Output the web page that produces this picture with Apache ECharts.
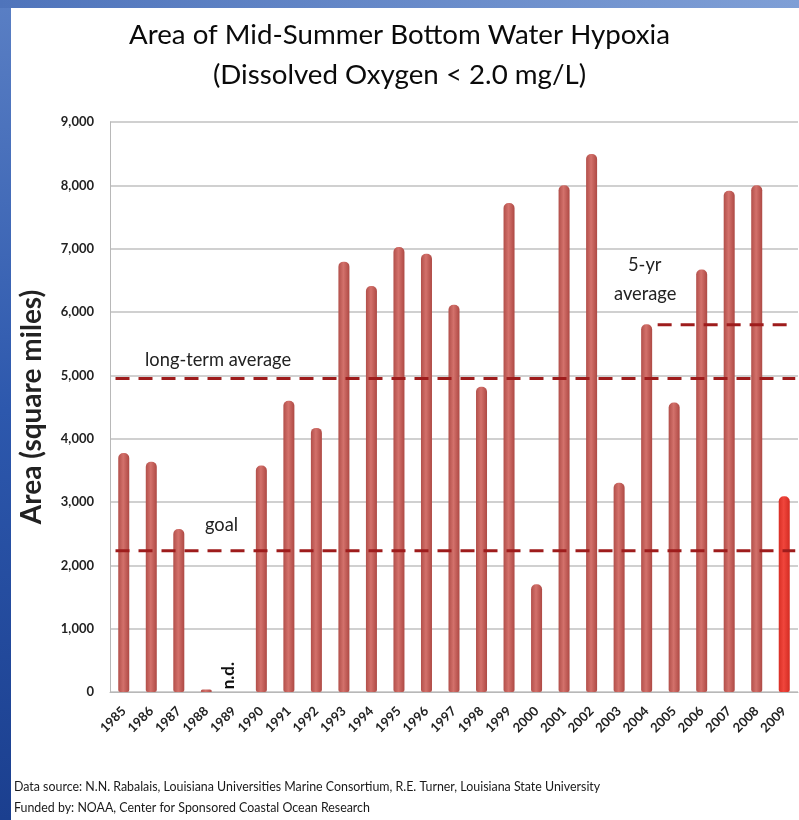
<!DOCTYPE html>
<html><head><meta charset="utf-8">
<script src="https://cdn.jsdelivr.net/npm/echarts@6/dist/echarts.min.js"></script>
<style>html,body{margin:0;padding:0;background:#fff}#c{width:799px;height:820px}</style>
</head><body><div id="c"></div>
<script>
// ---- data ----
const years = ['1985','1986','1987','1988','1989','1990','1991','1992','1993','1994','1995','1996','1997','1998','1999','2000','2001','2002','2003','2004','2005','2006','2007','2008','2009'];
const areaSqMi = [3775,3635,2575,40,null,3575,4600,4170,6795,6410,7025,6920,6115,4820,7720,1700,8000,8495,3305,5805,4570,6670,7915,8000,3090];
const yTicks = [0,1000,2000,3000,4000,5000,6000,7000,8000,9000];
const longTermAverage = 4950;
const goal = 2230;
const fiveYearAverage = 5800;
// reference line extents in category units (0 = left edge, 25 = right edge)
const longTermSpan = [0.2, 24.9];
const goalSpan = [0.2, 24.9];
const fiveYearSpan = [19.9, 24.6];

const chart = echarts.init(document.getElementById('c'));
const FONT = 'Lato, "Open Sans", sans-serif';
const barGrad = {type:'linear',x:0,y:0,x2:1,y2:0,colorStops:[{offset:0,color:'#b24f4a'},{offset:0.45,color:'#d3716b'},{offset:1,color:'#ae4944'}]};
const barGradHi = {type:'linear',x:0,y:0,x2:1,y2:0,colorStops:[{offset:0,color:'#d92e25'},{offset:0.45,color:'#f0463c'},{offset:1,color:'#d42b22'}]};
const dashStyle = {color:'#9e1c1c', width:3, type:[14,9]};

function ref(span, v){ return [[span[0], v],[span[1], v]]; }

chart.setOption({
  animation:false,
  backgroundColor:'#fff',
  title:[
    {text:'Area of Mid-Summer Bottom Water Hypoxia', left:'center', top:16, textStyle:{fontFamily:FONT, fontSize:27.7, fontWeight:'normal', color:'#0a0a0a'}},
    {text:'(Dissolved Oxygen < 2.0 mg/L)', left:'center', top:56, textStyle:{fontFamily:FONT, fontSize:27.7, fontWeight:'normal', color:'#0a0a0a'}}
  ],
  grid:{left:110, right:1, top:122, bottom:128},
  xAxis:[
    {type:'category', data:years, boundaryGap:true,
     axisLine:{show:true, lineStyle:{color:'#b8b8b8', width:1}},
     axisTick:{show:false},
     axisLabel:{rotate:45, margin:17, fontFamily:FONT, fontSize:13, fontWeight:'bold', color:'#222', interval:0}},
    {type:'value', min:0, max:25, show:false}
  ],
  yAxis:{type:'value', min:yTicks[0], max:yTicks[yTicks.length-1], interval:1000,
    name:'Area (square miles)', nameLocation:'middle', nameGap:64,
    nameTextStyle:{fontFamily:FONT, fontSize:28, fontWeight:'bold', color:'#222'},
    axisLine:{show:true, lineStyle:{color:'#b8b8b8'}},
    axisTick:{show:false},
    splitLine:{lineStyle:{color:'#c0c0c0', width:1.5}},
    axisLabel:{margin:16, fontFamily:FONT, fontSize:13, fontWeight:'bold', color:'#222', padding:[10,0,0,0],
      formatter:v=>v.toLocaleString('en-US')}},
  series:[
    {type:'bar', xAxisIndex:0, barWidth:11,
     data: areaSqMi.map((v,i)=>({value:v, itemStyle:{color: years[i]==='2009'? barGradHi : barGrad, borderRadius:[5,5,2,2]}})),
     z:2},
    {type:'line', xAxisIndex:1, data:ref(longTermSpan,longTermAverage), symbol:'none', lineStyle:dashStyle, z:5, silent:true},
    {type:'line', xAxisIndex:1, data:ref(goalSpan,goal), symbol:'none', lineStyle:dashStyle, z:5, silent:true},
    {type:'line', xAxisIndex:1, data:ref(fiveYearSpan,fiveYearAverage), symbol:'none', lineStyle:dashStyle, z:5, silent:true}
  ],
  graphic:[
    {type:'rect', left:0, top:0, shape:{width:11, height:820}, style:{fill:{type:'linear',x:0,y:0,x2:0,y2:1,colorStops:[{offset:0,color:'#5a7fc4'},{offset:0.5,color:'#2d58ad'},{offset:1,color:'#1b3f8f'}]}}, z:0},
    {type:'rect', left:0, top:0, shape:{width:799, height:8}, style:{fill:{type:'linear',x:0,y:0,x2:1,y2:0,colorStops:[{offset:0,color:'#4f74bb'},{offset:1,color:'#7f9fd6'}]}}, z:0},
    {type:'text', left:145, top:351, style:{text:'long-term average', font:'18.3px '+FONT, fill:'#222'}, z:10},
    {type:'text', left:205, top:516, style:{text:'goal', font:'18.3px '+FONT, fill:'#222'}, z:10},
    {type:'text', left:628, top:256, style:{text:'5-yr', font:'18.3px '+FONT, fill:'#222'}, z:10},
    {type:'text', left:614, top:285, style:{text:'average', font:'18.3px '+FONT, fill:'#222'}, z:10},
    {type:'text', left:220, top:662, rotation:Math.PI/2, style:{text:'n.d.', font:'bold 17px '+FONT, fill:'#111'}, z:10},
    {type:'text', left:14, top:781, style:{text:'Data source: N.N. Rabalais, Louisiana Universities Marine Consortium, R.E. Turner, Louisiana State University', font:'12.4px '+FONT, fill:'#1a1a1a'}, z:10},
    {type:'text', left:14, top:802, style:{text:'Funded by: NOAA, Center for Sponsored Coastal Ocean Research', font:'12.4px '+FONT, fill:'#1a1a1a'}, z:10}
  ]
});
</script></body></html>
